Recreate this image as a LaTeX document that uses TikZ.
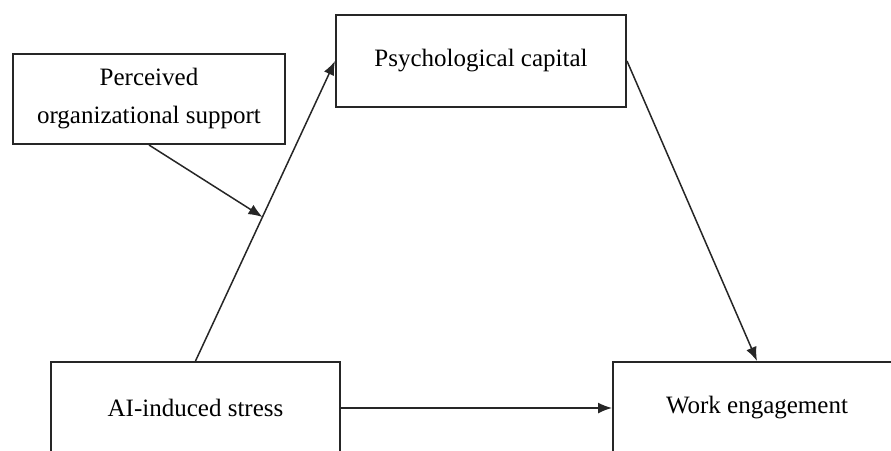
\documentclass[tikz,border=0pt]{standalone}
\usepackage{fontspec}
\setmainfont{Liberation Serif}
\usetikzlibrary{arrows.meta, positioning}

\begin{document}
\begin{tikzpicture}[x=1pt, y=-1pt,
    varbox/.style={draw=black!85, line width=2pt, fill=white, align=center,
                   font=\fontsize{25}{38}\selectfont, inner sep=0pt},
    path/.style={-{Latex[length=14pt,width=11pt]}, line width=1.5pt, black!85}]
            % picture frame
            \useasboundingbox (0,0) rectangle (891,450);
            \clip (0,0) rectangle (891,450);

            % variables
            \node[varbox, minimum width=272pt, minimum height=90pt] (pos) at (149,99)
                {Perceived\\organizational support};
            \node[varbox, minimum width=290pt, minimum height=92pt] (psycap) at (481,61)
                {Psychological capital};
            \node[varbox, minimum width=289pt, minimum height=92pt] (stress) at (195.5,408)
                {AI-induced stress};
            \node[varbox, minimum width=288pt, minimum height=92pt] (work) at (757,408)
                {Work engagement};

            % a path, with the moderator pointing at its middle
            \draw[path] (stress.north) -- coordinate[pos=0.48] (modpt) (psycap.west);
            \draw[path] (pos.south) -- (modpt);

            % b path and direct path
            \draw[path] (psycap.east) -- (work.north);
            \draw[path] (stress.east) -- (work.west);
        \end{tikzpicture}
\end{document}
